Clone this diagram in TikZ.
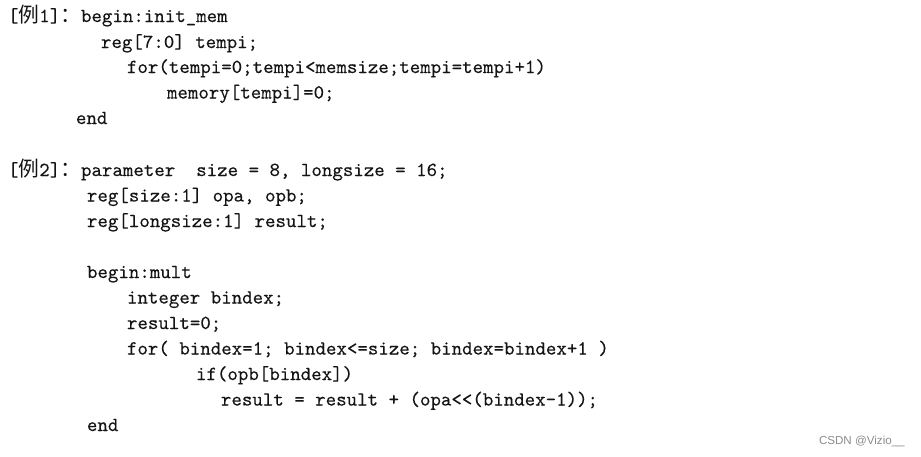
\documentclass[tikz,border=0pt]{standalone}
\usepackage{fontspec}
\setmonofont{lmmono10-regular.otf}[FakeBold=0.2]
\newfontfamily\cjk{Noto Sans CJK SC}
\newfontfamily\wmfont{Liberation Sans}
\newcommand{\codefont}{\ttfamily\fontsize{19.95}{21}\selectfont\frenchspacing}
\newcommand{\cj}[1]{{\cjk\fontsize{20.8}{21}\selectfont #1}}
\begin{document}
\begin{tikzpicture}[x=1pt,y=-1pt,
  code/.style={anchor=base west, inner sep=0pt, outer sep=0pt, font=\codefont, text=black!92},
  wmark/.style={anchor=base west, inner sep=0pt, outer sep=0pt, font=\wmfont\fontsize{11.6}{12}\selectfont, text=black!45}]
\useasboundingbox[fill=white] (0,0) rectangle (921,456);
% Example 1
\node[code] (a1) at (8,22)   {[\cj{例}1]\cj{：}begin:init\_mem};
\node[code] (a2) at (101,48) {reg[7:0] tempi;};
\node[code] (a3) at (127,73) {for(tempi=0;tempi<memsize;tempi=tempi+1)};
\node[code] (a4) at (167,98.5) {memory[tempi]=0;};
\node[code] (a5) at (76,124) {end};
% Example 2
\node[code] (b1) at (8,176)   {[\cj{例}2]\cj{：}parameter\ \ size = 8, longsize = 16;};
\node[code] (b2) at (87,201.5) {reg[size:1] opa, opb;};
\node[code] (b3) at (87,227)   {reg[longsize:1] result;};
\node[code] (b4) at (87,278)   {begin:mult};
\node[code] (b5) at (127,303.5) {integer bindex;};
\node[code] (b6) at (127,329)  {result=0;};
\node[code] (b7) at (127,354.5) {for( bindex=1; bindex<=size; bindex=bindex+1 )};
\node[code] (b8) at (196,380)  {if(opb[bindex])};
\node[code] (b9) at (221,405.5) {result = result + (opa<\kern0pt<(bindex-1));};
\node[code] (b10) at (87,431)  {end};
% watermark
\node[wmark] (wm) at (819,444) {CSDN @Vizio\_\_};
\end{tikzpicture}
\end{document}
